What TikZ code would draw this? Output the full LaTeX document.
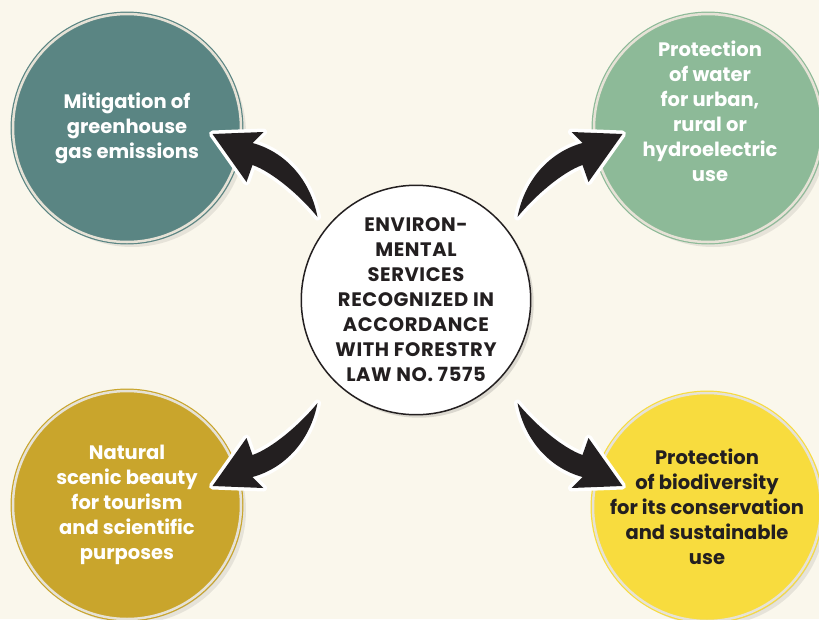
\documentclass[tikz,border=0pt]{standalone}
\usepackage{fontspec}
\setmainfont{Poppins}
\usetikzlibrary{positioning, shadows}
\definecolor{pagebg}{HTML}{FAF7EC}
\definecolor{tealsvc}{HTML}{5A8583}
\definecolor{greensvc}{HTML}{8DBA98}
\definecolor{goldsvc}{HTML}{C9A52C}
\definecolor{yellowsvc}{HTML}{F8DC3E}
\definecolor{inkdark}{HTML}{231F20}
\definecolor{ringlight}{HTML}{E6E2D6}

\tikzset{
  bentarrow/.pic={
    \fill[inkdark, preaction={draw=white, line width=7pt, line join=round}]
      (-205,-176) -- (-154,-178) -- (-165,-167)
      .. controls (-132,-158) and (-107,-130) .. (-100,-93)
      .. controls (-117,-114) and (-145,-138) .. (-165,-145)
      -- (-171,-128) -- cycle;
  }
}

\begin{document}
\begin{tikzpicture}[x=1pt, y=-1pt,
    every node/.style={font=\bfseries\fontsize{19.5}{25}\selectfont, align=center},
    svc/.style={circle, minimum size=228pt, inner sep=0pt, text=white,
      double=ringlight, line width=1.2pt, double distance=2.5pt,
      drop shadow={shadow xshift=2pt, shadow yshift=-2pt, opacity=.12, fill=black},
      drop shadow={shadow xshift=5pt, shadow yshift=-5pt, opacity=.08, fill=black}},
    svctext/.style={text=white},
    hubnode/.style={circle, minimum size=218pt, inner sep=0pt, fill=white, draw=inkdark,
      line width=1.5pt, text=inkdark,
      drop shadow={shadow xshift=3pt, shadow yshift=-3pt, opacity=.12, fill=black}}
]
\useasboundingbox (0,0) rectangle (819,619);
\fill[pagebg] (0,0) rectangle (819,619);
\clip (0,0) rectangle (819,619);

% outer services
\node[svc, fill=tealsvc, draw=tealsvc] (mit) at (127,128) {Mitigation of\\greenhouse\\gas emissions};
\node[svc, fill=greensvc, draw=greensvc] (water) at (708,128) {};
\node[svctext] (watertxt) at (710,111) {Protection\\of water\\for urban,\\rural or\\hydroelectric\\use};
\node[svc, fill=goldsvc, draw=goldsvc] (scenic) at (127,505) {Natural\\scenic beauty\\for tourism\\and scientific\\purposes};
\node[svc, fill=yellowsvc, draw=yellowsvc, text=inkdark] (biodiv) at (707,507) {Protection\\of biodiversity\\for its conservation\\and sustainable\\use};

% curved arrows
\coordinate (pivot) at (417.5,310);
\pic at (pivot) {bentarrow};
\pic[xscale=-1] at (pivot) {bentarrow};
\pic[yscale=-1] at (pivot) {bentarrow};
\pic[xscale=-1, yscale=-1] at (pivot) {bentarrow};

% center
\node[hubnode, font=\bfseries\fontsize{19.5}{25}\selectfont\addfontfeatures{LetterSpace=3}] (hub) at (416,300)
  {ENVIRON-\\MENTAL\\SERVICES\\RECOGNIZED IN\\ACCORDANCE\\WITH FORESTRY\\LAW NO. 7575};
\end{tikzpicture}
\end{document}
